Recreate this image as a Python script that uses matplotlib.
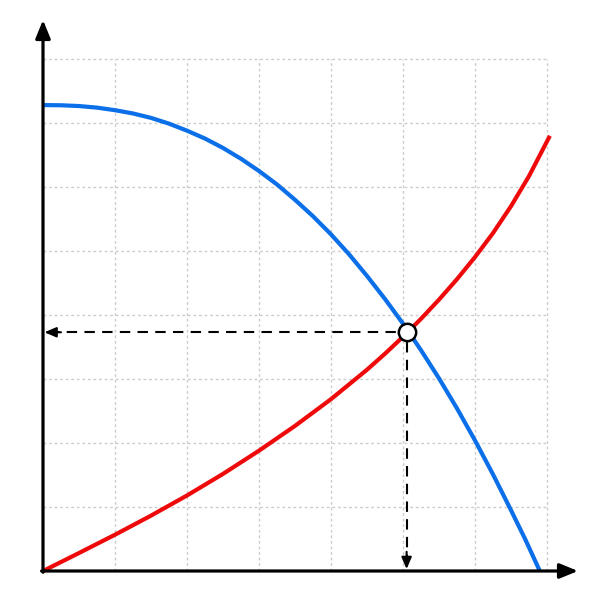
import matplotlib
matplotlib.use("Agg")
import matplotlib.pyplot as plt

# Blue (decreasing) curve
blue_x = [0.0, 0.25, 0.5, 0.75, 1.0, 1.25, 1.5, 1.75, 2.0, 2.25, 2.5, 2.75, 3.0, 3.25,
          3.5, 3.75, 4.0, 4.25, 4.5, 4.75, 5.0, 5.25, 5.5, 5.75, 6.0, 6.25, 6.5, 6.7, 6.9]
blue_y = [7.28, 7.277, 7.265, 7.24, 7.20, 7.149, 7.08, 6.99, 6.88, 6.757, 6.61, 6.441,
          6.25, 6.04, 5.80, 5.543, 5.26, 4.95, 4.61, 4.25, 3.865, 3.45, 3.01, 2.54,
          2.04, 1.51, 0.95, 0.49, 0.0]

# Red (increasing) curve
red_x = [0.0, 0.5, 1.0, 1.5, 2.0, 2.5, 3.0, 3.5, 4.0, 4.5, 4.75, 5.0, 5.25, 5.5,
         5.75, 6.0, 6.25, 6.5, 6.75, 7.04]
red_y = [0.0, 0.281, 0.567, 0.865, 1.18, 1.517, 1.88, 2.267, 2.685, 3.145, 3.395,
         3.66, 3.94, 4.24, 4.56, 4.905, 5.28, 5.70, 6.17, 6.80]

# Intersection point
eq_x = 5.05
eq_y = 3.73

# Grid extent
grid_cols = 7
grid_rows = 8

fig = plt.figure(figsize=(6, 6), dpi=100)
ax = fig.add_axes([0, 0, 1, 1])
ax.set_xlim(-43 / 72, 557 / 72)
ax.set_ylim(-29 / 64, 571 / 64)
ax.axis("off")

grid_color = "#cccccc"
for i in range(1, grid_cols + 1):
    ax.plot([i, i], [0, grid_rows], color=grid_color, lw=1.0, ls=(0, (2, 2)), zorder=1)
for j in range(1, grid_rows + 1):
    ax.plot([0, grid_cols], [j, j], color=grid_color, lw=1.0, ls=(0, (2, 2)), zorder=1)

# Axes with arrows
ax.annotate("", xy=(535 / 72, 0), xytext=(-0.02, 0),
            arrowprops=dict(arrowstyle="-|>,head_length=1.1,head_width=0.45", color="black",
                            lw=2.3, shrinkA=0, shrinkB=0), zorder=5)
ax.annotate("", xy=(0, 551 / 64), xytext=(0, -0.02),
            arrowprops=dict(arrowstyle="-|>,head_length=1.1,head_width=0.45", color="black",
                            lw=2.3, shrinkA=0, shrinkB=0), zorder=5)

# Curves
ax.plot(blue_x, blue_y, color="#0a6fe8", lw=3.0, solid_capstyle="butt",
        solid_joinstyle="round", zorder=3)
ax.plot(red_x, red_y, color="#ee0a0a", lw=3.0, solid_capstyle="butt",
        solid_joinstyle="round", zorder=3)

# Dashed guides
dash = (0, (5, 3.5))
ax.plot([0.08, eq_x], [eq_y, eq_y], color="black", lw=1.5, ls=dash, zorder=4)
ax.plot([eq_x, eq_x], [0.1, eq_y], color="black", lw=1.5, ls=dash, zorder=4)
ax.annotate("", xy=(0.02, eq_y), xytext=(0.25, eq_y),
            arrowprops=dict(arrowstyle="-|>,head_length=0.7,head_width=0.3", color="black",
                            lw=1.5, shrinkA=0, shrinkB=0), zorder=4)
ax.annotate("", xy=(eq_x, 0.03), xytext=(eq_x, 0.3),
            arrowprops=dict(arrowstyle="-|>,head_length=0.7,head_width=0.3", color="black",
                            lw=1.5, shrinkA=0, shrinkB=0), zorder=4)

# Equilibrium marker
ax.plot([eq_x], [eq_y], marker="o", markersize=12.5, markerfacecolor="white",
        markeredgecolor="black", markeredgewidth=1.8, zorder=6)

fig.savefig("out.png", dpi=100)
